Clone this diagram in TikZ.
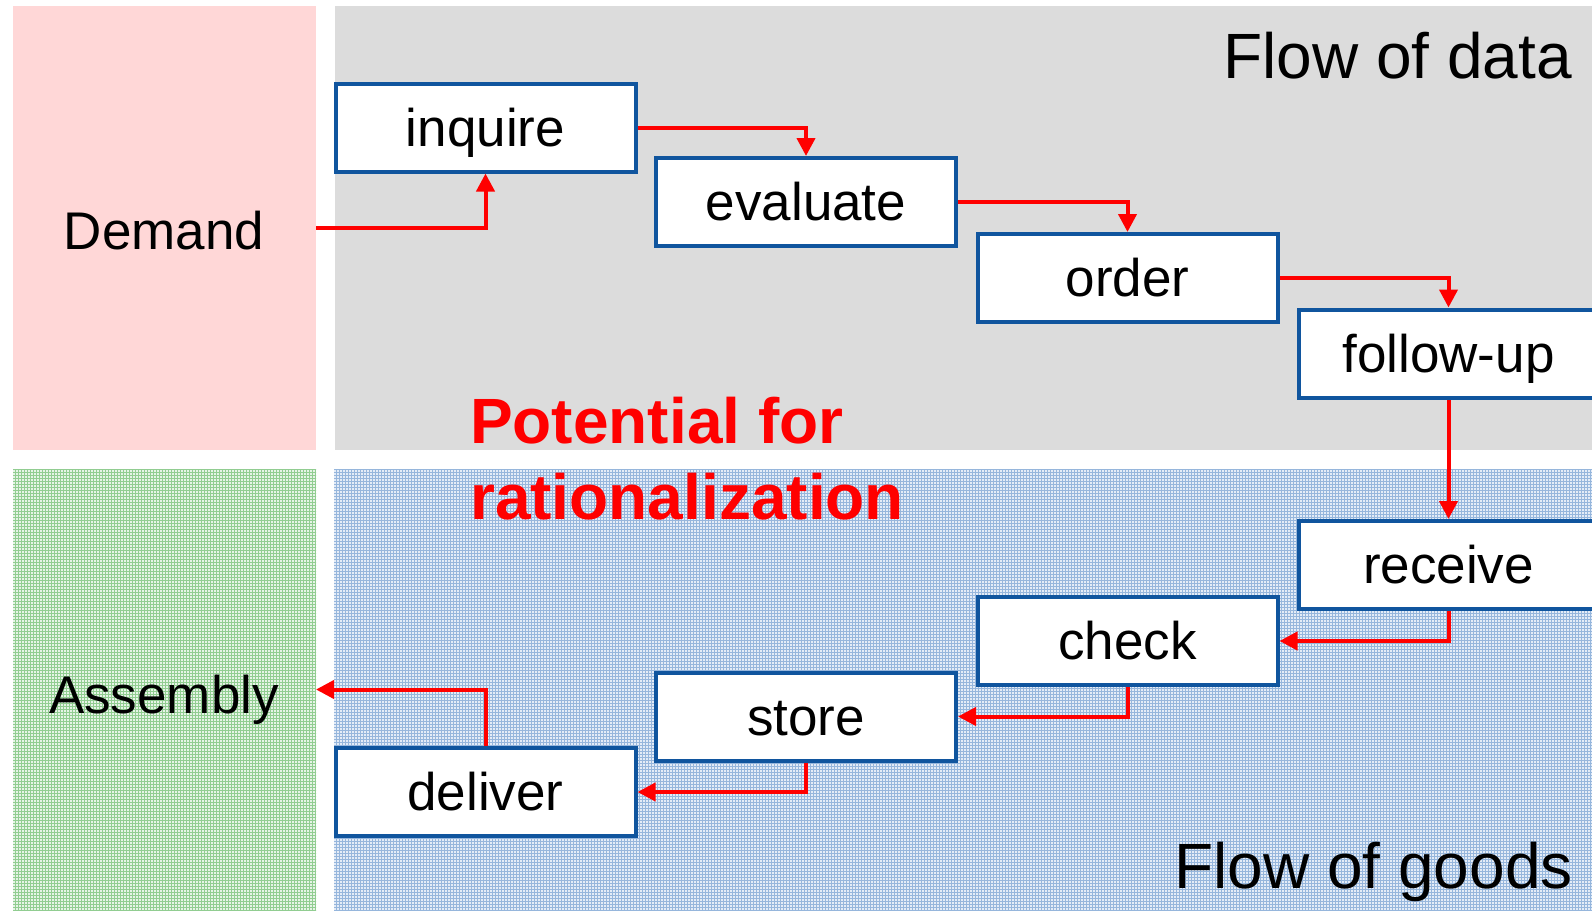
\documentclass[tikz,border=0pt]{standalone}
\usepackage{fontspec}
\setmainfont{Liberation Sans}
\usetikzlibrary{arrows.meta,patterns}
\definecolor{boxblue}{RGB}{16,85,158}
\definecolor{demandpink}{RGB}{255,215,215}
\definecolor{datagray}{RGB}{220,220,220}
\definecolor{goodsfill}{RGB}{228,236,247}
\definecolor{goodsgrid}{RGB}{150,182,220}
\definecolor{assemblyfill}{RGB}{230,244,230}
\definecolor{assemblygrid}{RGB}{145,205,145}

\begin{document}
\begin{tikzpicture}[x=1pt,y=-1pt,
  panel/.style={inner sep=0pt, outer sep=0pt, minimum width=303pt},
  procbox/.style={draw=boxblue, line width=4pt, fill=white,
    minimum width=300pt, minimum height=88pt, inner sep=0pt,
    font=\fontsize{53}{60}\selectfont, text height=48pt, text depth=11pt},
  flowarrow/.style={red, line width=4pt, -{Triangle[length=18pt,width=18pt]}},
  sidetext/.style={inner sep=0pt, anchor=base, font=\fontsize{53}{60}\selectfont},
  flowtext/.style={inner sep=0pt, anchor=base east, font=\fontsize{64}{72}\selectfont},
  hinttext/.style={inner sep=0pt, anchor=base west, red, font=\fontsize{64}{72}\selectfont\bfseries}]
  \useasboundingbox (0,0) rectangle (1592,910);

  % backgrounds
  \fill[datagray] (335,6) rectangle (1592,450);
  \fill[preaction={fill=goodsfill}, pattern=grid, pattern color=goodsgrid]
    (334,469) rectangle (1592,910);
  \node[panel, fill=demandpink, minimum height=444pt] (demand) at (164.5,228) {};
  \node[panel, preaction={fill=assemblyfill}, pattern=grid,
    pattern color=assemblygrid, minimum height=441pt] (assembly) at (164.5,689.5) {};

  \node[sidetext] (demandtext) at (164,249) {Demand};
  \node[sidetext] (assemblytext) at (164,713) {Assembly};
  \node[flowtext] (datatext) at (1572,78) {Flow of data};
  \node[flowtext] (goodstext) at (1573,888) {Flow of goods};
  \node[hinttext] (potential) at (470,443) {Potential for};
  \node[hinttext] (rational) at (470,519) {rationalization};

  % steps
  \node[procbox] (inquire) at (485.5,127.5) {inquire};
  \node[procbox] (evaluate) at (806,202) {evaluate};
  \node[procbox] (order) at (1127.5,278) {order};
  \node[procbox] (followup) at (1448.5,353.5) {follow-up};
  \node[procbox] (receive) at (1448.5,565) {receive};
  \node[procbox] (check) at (1127.5,641) {check};
  \node[procbox] (store) at (806,716.5) {store};
  \node[procbox] (deliver) at (485.5,792) {deliver};

  % connectors
  \draw[flowarrow] (demand.east) -| (inquire.south);
  \draw[flowarrow] (inquire.east) -| (evaluate.north);
  \draw[flowarrow] (evaluate.east) -| (order.north);
  \draw[flowarrow] (order.east) -| (followup.north);
  \draw[flowarrow] (followup.south) -- (receive.north);
  \draw[flowarrow] (receive.south) |- (check.east);
  \draw[flowarrow] (check.south) |- (store.east);
  \draw[flowarrow] (store.south) |- (deliver.east);
  \draw[flowarrow] (deliver.north) |- (assembly.east);
\end{tikzpicture}
\end{document}
